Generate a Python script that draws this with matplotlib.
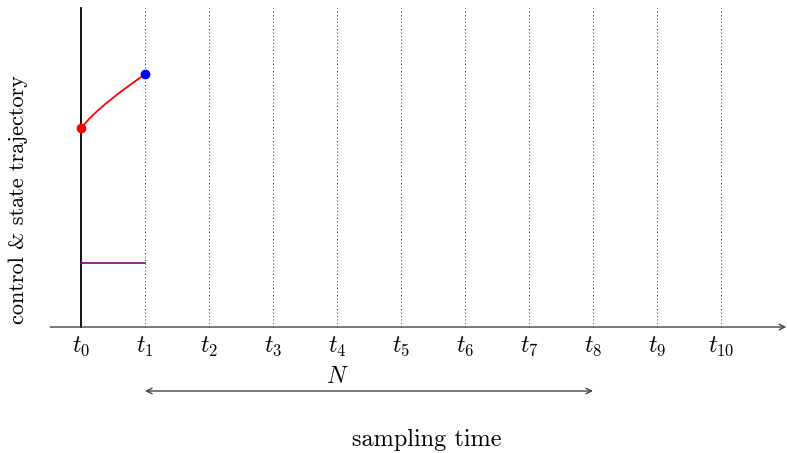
import matplotlib.pyplot as plt

plt.rcParams['mathtext.fontset'] = 'cm'
plt.rcParams['font.family'] = ['cmr10', 'DejaVu Serif']

# sampling instants and labels
t_ticks = list(range(11))
t_labels = [rf'$t_{{{i}}}$' for i in t_ticks]

# state trajectory over first interval
state_t = [0, 0.125, 0.25, 0.375, 0.5, 0.625, 0.75, 0.875, 1.0]
state_x = [3.11, 3.25, 3.37, 3.48, 3.58, 3.68, 3.77, 3.86, 3.95]

# control held over first interval
control_t = [0, 1]
control_u = [1.0, 1.0]

horizon = (1, 8)

fig = plt.figure(figsize=(7.87, 4.53), dpi=100)
ax = fig.add_axes([0, 0, 1, 1])
ax.set_xlim(-81 / 64, (787 - 81) / 64)
ax.set_ylim(-(453 - 327) / 64, 327 / 64)
ax.axis('off')

# dotted grid at t1..t10
for t in t_ticks[1:]:
    ax.plot([t, t], [0, 4.98], color='#333333', lw=0.7, ls=(0, (1, 2.6)))

# axes
ax.annotate('', xy=(11.02, 0), xytext=(-0.48, 0),
            arrowprops=dict(arrowstyle='->', color='#444444', lw=1.0,
                            shrinkA=0, shrinkB=0))
ax.plot([0, 0], [0, 4.98], color='black', lw=1.3)

for t, lab in zip(t_ticks, t_labels):
    ax.text(t, -0.31, lab, ha='center', va='center', fontsize=17)

# trajectories
ax.plot(control_t, control_u, color='purple', lw=1.2)
ax.plot(state_t, state_x, color='red', lw=1.3)
ax.plot(state_t[0], state_x[0], 'o', color='red', ms=6)
ax.plot(state_t[-1], state_x[-1], 'o', color='blue', ms=6)

# horizon arrow
ax.annotate('', xy=(horizon[1], -1.0), xytext=(horizon[0], -1.0),
            arrowprops=dict(arrowstyle='<->', color='#444444', lw=1.0,
                            shrinkA=0, shrinkB=0))
ax.text(4.0, -0.78, '$N$', ha='center', va='center', fontsize=17)

ax.text(5.4, -1.77, 'sampling time', ha='center', va='center', fontsize=17.5)
fig.text(18 / 787, 1 - 200 / 453, 'control & state trajectory', rotation=90,
         ha='center', va='center', fontsize=16)

fig.savefig('out.png', dpi=100)
